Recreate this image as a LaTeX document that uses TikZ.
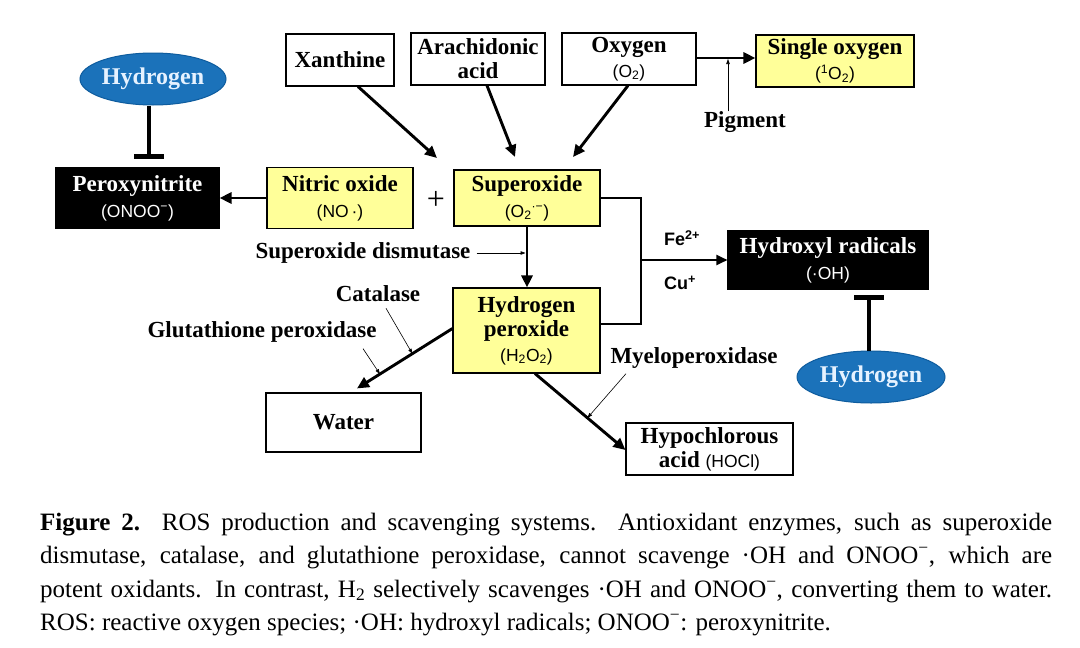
\documentclass[tikz,border=0pt]{standalone}
\usepackage{fontspec}
\setmainfont{Liberation Serif}
\newfontfamily\chemfont{Liberation Sans}
\newfontfamily\capfont{Liberation Serif}
\usetikzlibrary{arrows.meta,shapes.geometric}
\definecolor{boxyellow}{HTML}{FFFF99}
\definecolor{hblue}{HTML}{1B72BA}
\definecolor{hblueedge}{HTML}{0E5C9E}
\definecolor{htext}{HTML}{E6F2FF}
\newcommand\chemtxt[1]{{\chemfont\mdseries\fontsize{17.5}{19}\selectfont #1}}
\newcommand\capline[1]{\makebox[1012pt][s]{#1}}
\begin{document}
\begin{tikzpicture}[x=1pt,y=-1pt,
  box/.style={draw, line width=1.1pt, inner sep=0pt, align=center,
    font=\bfseries\fontsize{23}{24}\selectfont},
  ybox/.style={box, fill=boxyellow},
  kbox/.style={box, fill=black, text=white},
  hell/.style={ellipse, draw=hblueedge, fill=hblue, line width=1pt, text=htext,
    inner sep=0pt, minimum width=146pt, minimum height=52pt,
    font=\bfseries\fontsize{24}{26}\selectfont},
  lbl/.style={inner sep=0pt, font=\bfseries\fontsize{23}{24}\selectfont},
  ion/.style={inner sep=0pt, font=\chemfont\bfseries\fontsize{18}{20}\selectfont},
  flow/.style={line width=2.9pt, -{Triangle[length=12pt,width=11pt]}},
  note/.style={line width=0.6pt, -{Triangle[length=5pt,width=3.5pt]}},
  inh/.style={line width=4.5pt},
  capt/.style={anchor=base west, inner sep=0pt, font=\capfont\fontsize{25}{28}\selectfont}
]
\fill[white] (0,0) rectangle (1080,648);
\useasboundingbox (0,0) rectangle (1080,648);

% nodes
\node[hell] (hydL) at (153,79) {Hydrogen};
\node[kbox, minimum width=163pt, minimum height=60pt] (perox) at (137.5,198)
  {Peroxynitrite\\[2pt]\chemtxt{(ONOO\textsuperscript{−})}};
\node[ybox, minimum width=146pt, minimum height=61pt] (nitric) at (340,198)
  {Nitric oxide\\[2pt]\chemtxt{(NO\,·)}};
\node[inner sep=0pt, font=\fontsize{32}{32}\selectfont] (plus) at (436,200) {+};
\node[ybox, minimum width=146pt, minimum height=56pt] (superox) at (527,198)
  {Superoxide\\[2pt]\chemtxt{(O\textsubscript{2}\textsuperscript{·−})}};
\node[box, minimum width=108pt, minimum height=52pt] (xan) at (340,60) {Xanthine};
\node[box, minimum width=134pt, minimum height=52pt] (arach) at (478,59) {Arachidonic\\acid};
\node[box, minimum width=134pt, minimum height=52pt] (oxy) at (629,59)
  {Oxygen\\[1pt]\chemtxt{(O\textsubscript{2})}};
\node[ybox, minimum width=158pt, minimum height=52pt] (single) at (835,61)
  {Single oxygen\\[1pt]\chemtxt{(\textsuperscript{1}O\textsubscript{2})}};
\node[lbl] (pigment) at (745,122) {Pigment};
\node[ybox, minimum width=147pt, minimum height=85pt] (h2o2) at (526.5,330.5)
  {Hydrogen\\peroxide\\[1pt]\chemtxt{(H\textsubscript{2}O\textsubscript{2})}};
\node[kbox, minimum width=200pt, minimum height=58pt] (hydroxyl) at (828,260)
  {Hydroxyl radicals\\[2pt]\chemtxt{(·OH)}};
\node[hell, minimum width=148pt] (hydR) at (871,377) {Hydrogen};
\node[box, minimum width=155pt, minimum height=59pt] (water) at (343.5,422.5) {Water};
\node[box, minimum width=167pt, minimum height=52pt] (hypo) at (709.5,449)
  {Hypochlorous\\acid \chemtxt{(HOCl)}};

% labels
\node[lbl] (sod) at (363,253) {Superoxide dismutase};
\node[lbl] (cat) at (378,294) {Catalase};
\node[lbl] (glut) at (262,332) {Glutathione peroxidase};
\node[lbl] (myelo) at (694,358) {Myeloperoxidase};
\node[ion] (fe) at (682,238) {Fe\textsuperscript{2+}};
\node[ion] (cu) at (680,283) {Cu\textsuperscript{+}};

% connectors
\draw[flow] (nitric.west) -- (perox.east);
\coordinate (xanend) at (437,158);
\coordinate (arend) at (515,157);
\coordinate (oxend) at (573,157);
\draw[flow] ([xshift=18pt]xan.south) -- (xanend);
\draw[flow] ([xshift=9pt]arach.south) -- (arend);
\draw[flow] ([xshift=-1pt]oxy.south) -- (oxend);
\draw[flow] ([yshift=1pt]oxy.east) -- ([yshift=1pt]oxy.east -| single.west);
\coordinate (pigtip) at (728,59);
\draw[note] (pigment.north -| pigtip) -- (pigtip);

\draw[flow] (superox.south) -- (superox.south |- h2o2.north);
\draw[note] ([xshift=6pt]sod.east) -- ([xshift=-1.5pt]superox.south |- sod.east);

\coordinate (brk) at (641,260);
\draw[line width=2pt] (superox.east) -| (brk) |- ([yshift=6.5pt]h2o2.east);
\draw[line width=2pt, -{Triangle[length=11pt,width=10pt]}] (brk) -- (hydroxyl.west |- brk);

\draw[flow] ([yshift=2pt]h2o2.west) -- ([xshift=13.5pt,yshift=4pt]water.north)
  coordinate[pos=0.42] (catpt) coordinate[pos=0.76] (glutpt);
\draw[note] ([xshift=8pt,yshift=-6pt]cat.south) -- (catpt);
\draw[note] ([xshift=101pt,yshift=-6pt]glut.south) -- (glutpt);

\draw[flow] ([xshift=8.5pt]h2o2.south) -- ([yshift=-1pt]hypo.west)
  coordinate[pos=0.58] (mypt);
\draw[note] ([xshift=-68pt,yshift=-5pt]myelo.south) -- (mypt);

% inhibitions
\coordinate (barL) at ([xshift=-4pt,yshift=11pt]perox.north -| hydL.south);
\draw[inh] ([xshift=-4pt]hydL.south) -- (barL);
\draw[line width=5pt] ([xshift=-15pt]barL) -- ([xshift=15pt]barL);
\coordinate (barR) at ([xshift=-2pt,yshift=-8pt]hydroxyl.south -| hydR.north);
\draw[inh] ([xshift=-2pt]hydR.north) -- (barR);
\draw[line width=5pt] ([xshift=-15pt]barR) -- ([xshift=15pt]barR);

% caption
\node[capt] (cap1) at (40,530) {\capline{\textbf{Figure 2.}\ \ ROS production and scavenging systems.\ \ Antioxidant enzymes, such as superoxide}};
\node[capt] (cap2) at (40,563) {\capline{dismutase, catalase, and glutathione peroxidase, cannot scavenge ·OH and ONOO\textsuperscript{−}, which are}};
\node[capt] (cap3) at (40,597) {\capline{potent oxidants. In contrast, H\textsubscript{2} selectively scavenges ·OH and ONOO\textsuperscript{−}, converting them to water.}};
\node[capt] (cap4) at (40,630) {ROS: reactive oxygen species; ·OH: hydroxyl radicals; ONOO\textsuperscript{−}: peroxynitrite.};
\end{tikzpicture}
\end{document}
